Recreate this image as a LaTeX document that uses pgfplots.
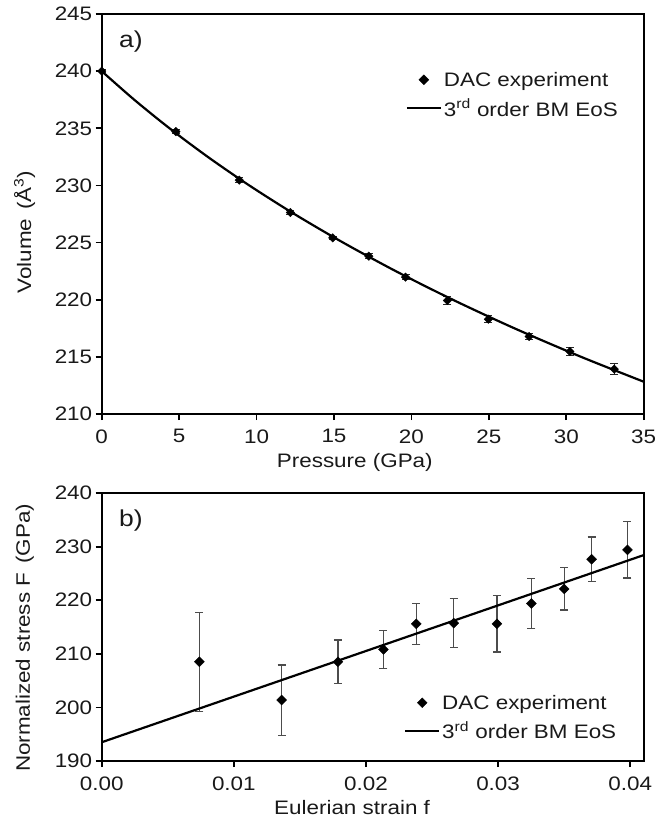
\documentclass[border=0pt]{standalone}
\usepackage{fontspec}
\setmainfont{Liberation Sans}[FakeStretch=1.15]
\usepackage{pgfplots}
\usepackage{pgfplotstable}
\pgfplotsset{compat=1.18}

\pgfplotstableread{
P V e
0.00 240.00 0.12
4.79 234.71 0.15
8.88 230.46 0.20
12.18 227.63 0.15
14.92 225.41 0.15
17.25 223.81 0.20
19.62 221.98 0.25
22.32 219.93 0.35
24.97 218.30 0.30
27.60 216.78 0.30
30.23 215.47 0.35
33.10 213.93 0.45
}\topdata

\pgfplotstableread{
P V
0.00 240.0
2.10 237.5
4.38 235.0
6.85 232.5
9.53 230.0
12.44 227.5
15.59 225.0
18.99 222.5
22.67 220.0
26.65 217.5
30.96 215.0
35.05 212.8
}\topfit

\pgfplotstableread{
f F e
0.00739 208.51 9.25
0.01362 201.37 6.55
0.01788 208.51 4.05
0.02132 210.82 3.55
0.02381 215.59 3.80
0.02664 215.72 4.55
0.02991 215.59 5.25
0.03252 219.39 4.60
0.03500 222.11 3.95
0.03708 227.64 4.15
0.03979 229.38 5.25
}\botdata

\pgfplotstableread{
f F
0.000 193.5
0.041 228.4
}\botfit

\newcommand{\fs}{\fontsize{19.5}{22}\selectfont}

\pgfplotsset{
  panel/.style={
    scale only axis, width=542pt,
    axis line style={line width=2pt, black},
    every tick/.style={line width=1.8pt, black},
    major tick length=6pt, tick align=outside, tick pos=left,
    /pgf/number format/assume math mode=true,
    tick label style={font=\fs, black!90},
    xticklabel style={yshift=-6pt},
    label style={font=\fs, black!90},
    legend style={draw=none, fill=none, inner sep=0pt, outer sep=0pt, font=\fs, text=black!90,
      row sep=7pt, nodes={inner sep=2pt}, cells={anchor=west}},
    legend image code/.code={\draw[mark repeat=2,mark phase=2,##1] plot coordinates {(0pt,0pt) (17pt,0pt) (34pt,0pt)};},
  },
}

\begin{document}
\begin{tikzpicture}
\path[use as bounding box] (0,0) rectangle (655pt,-822pt);

% ---------- panel a ----------
\begin{axis}[panel, height=400pt,
  at={(101.7pt,-14pt)}, anchor=north west,
  xmin=0, xmax=35, ymin=210, ymax=245,
  xtick={0,5,...,35}, ytick={210,215,...,245},
  xlabel={Pressure (GPa)},
  xlabel style={at={(axis description cs:0.467,-0.12)}, anchor=center},
  ylabel={Volume\hspace{0.45em}(Å\textsuperscript{3})},
  ylabel style={at={(axis description cs:-0.142,0.455)}, anchor=center},
  legend style={at={(axis description cs:0.956,0.86)}, anchor=north east},
]
\addlegendimage{only marks, mark=square*, mark size=3.5pt, mark options={rotate=45, black, fill=black}}
\addlegendentry{DAC experiment}
\addlegendimage{line width=2pt, black}
\addlegendentry{3\textsuperscript{rd} order BM EoS}

\addplot[forget plot, only marks, mark=square*, mark size=3pt,
  mark options={rotate=45, black, fill=black},
  error bars/.cd, y dir=both, y explicit,
  error bar style={line width=1.1pt, black!85},
  error mark options={rotate=90, mark size=4pt, line width=1.1pt, black!85}]
  table[x=P, y=V, y error=e] \topdata;
\addplot[forget plot, smooth, line width=2.2pt, black] table[x=P, y=V] \topfit;

\node[anchor=west, inner sep=0pt, text=black!90, font=\fontsize{23}{26}\selectfont] at (axis description cs:0.032,0.93) {a)};
\end{axis}

% ---------- panel b ----------
\begin{axis}[panel, height=268pt,
  at={(101.7pt,-493pt)}, anchor=north west,
  xmin=0, xmax=0.04102, ymin=190, ymax=240,
  xtick={0,0.01,...,0.04}, ytick={190,200,...,240},
  xticklabel style={/pgf/number format/.cd, fixed, fixed zerofill, precision=2},
  scaled x ticks=false,
  xlabel={Eulerian strain f},
  xlabel style={at={(axis description cs:0.462,-0.175)}, anchor=center},
  ylabel={Normalized stress F\hspace{0.45em}(GPa)},
  ylabel style={at={(axis description cs:-0.142,0.459)}, anchor=center},
  legend style={at={(axis description cs:0.953,0.254)}, anchor=north east},
]
\addlegendimage{only marks, mark=square*, mark size=3.5pt, mark options={rotate=45, black, fill=black}}
\addlegendentry{DAC experiment}
\addlegendimage{line width=2pt, black}
\addlegendentry{3\textsuperscript{rd} order BM EoS}

\addplot[forget plot, only marks, mark=square*, mark size=3.5pt,
  mark options={rotate=45, black, fill=black},
  error bars/.cd, y dir=both, y explicit,
  error bar style={line width=1.2pt, black!70},
  error mark options={rotate=90, mark size=4pt, line width=1.2pt, black!70}]
  table[x=f, y=F, y error=e] \botdata;
\addplot[forget plot, line width=2.2pt, black] table[x=f, y=F] \botfit;

\node[anchor=west, inner sep=0pt, text=black!90, font=\fontsize{23}{26}\selectfont] at (axis description cs:0.032,0.896) {b)};
\end{axis}
\end{tikzpicture}
\end{document}
